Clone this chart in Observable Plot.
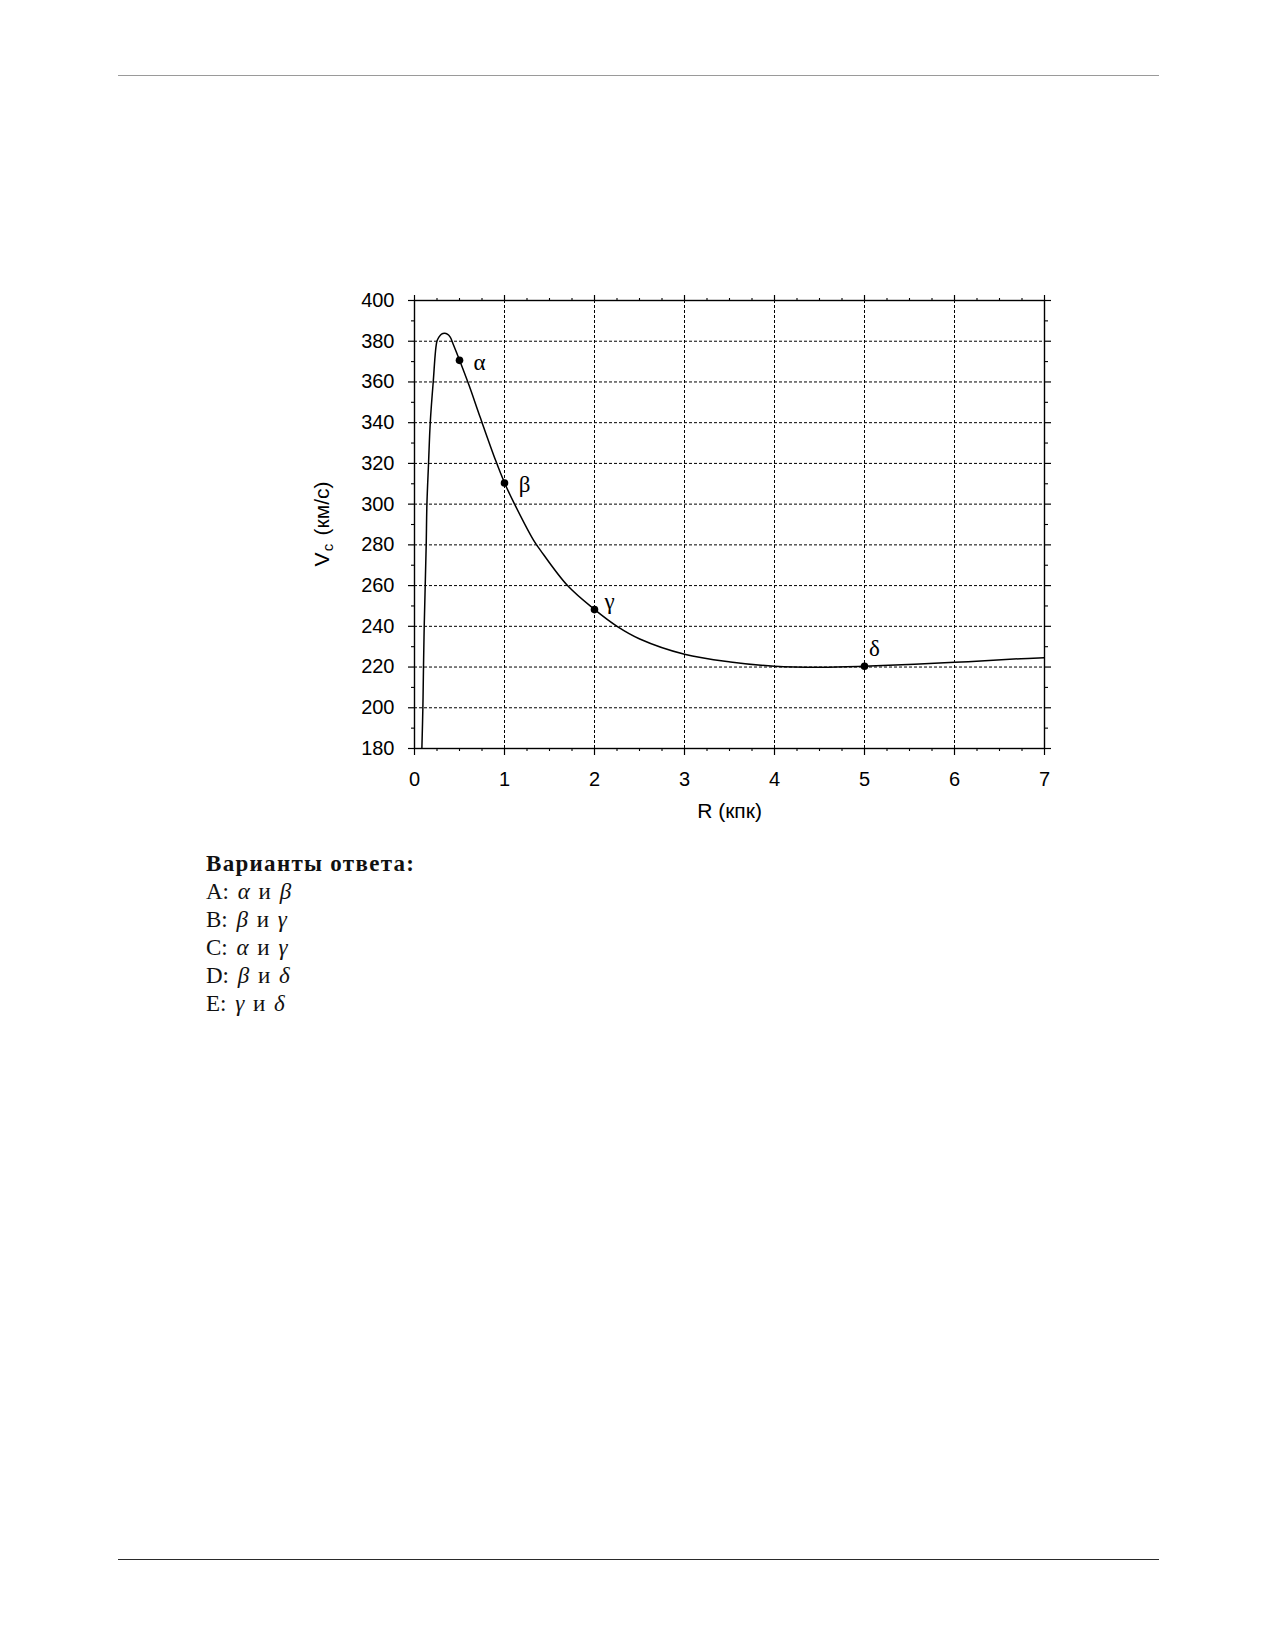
<!DOCTYPE html>
<html>
<head>
<meta charset="utf-8">
<script src="https://cdn.jsdelivr.net/npm/d3@7"></script>
<script src="https://cdn.jsdelivr.net/npm/@observablehq/plot@0.6"></script>
<style>
  html, body { margin: 0; padding: 0; background: #fff; }
  #page { position: relative; width: 1275px; height: 1650px; overflow: hidden; }
  .rule { position: absolute; left: 118px; width: 1041px; height: 0; }
  #chart { position: absolute; left: 0; top: 0; }
  #answers { position: absolute; left: 206px; top: 850px; font-family: "Liberation Serif", "DejaVu Serif", serif; font-size: 23px; line-height: 28px; color: #111; }
  #answers b { letter-spacing: 1.3px; }
  #answers .opt { word-spacing: 3px; }
  #answers i { font-style: italic; }
</style>
</head>
<body>
<div id="page">
  <div class="rule" style="top:75px;border-top:1.5px solid #9a9a9a;"></div>
  <div id="chart"></div>
  <div id="answers"></div>
  <div class="rule" style="top:1559px;border-top:1.5px solid #2a2a2a;"></div>
</div>
<script>
// Rotation curve V_c(R)
const R = [0.082, 0.093, 0.100, 0.108, 0.119, 0.130, 0.138, 0.156, 0.175, 0.208, 0.249, 0.271, 0.30, 0.334, 0.365, 0.397, 0.43, 0.505, 0.605, 0.731, 0.901, 1.001, 1.112, 1.324, 1.40, 1.70, 2.002, 2.251, 2.503, 3.0, 3.51, 4.0, 4.51, 4.99, 6.0, 6.74, 7.0];
const V = [180, 200, 220, 240, 260, 280, 300, 320, 340, 360, 380, 382, 383.5, 383.9, 383.5, 382, 378.5, 370.2, 358.5, 342.5, 321.5, 310.4, 300, 282.2, 277.3, 260, 248.2, 240, 233.8, 226.3, 222.5, 220.4, 219.9, 220.4, 222.3, 224.1, 224.6];

// Marked points
const markerNames = ["α", "β", "γ", "δ"];
const markerR = [0.5, 1, 2, 5];
const markerV = [370.6, 310.4, 248.2, 220.4];

// Ticks
const xMajor = [0, 1, 2, 3, 4, 5, 6, 7];
const xMinor = d3.range(0, 7.001, 0.25).filter(d => Math.abs(d - Math.round(d)) > 1e-6);
const yMajor = [180, 200, 220, 240, 260, 280, 300, 320, 340, 360, 380, 400];
const yMinor = [190, 210, 230, 250, 270, 290, 310, 330, 350, 370, 390];

// Axis titles
const xTitle = "R (кпк)";
const yTitleMain = "V";
const yTitleSub = "c";
const yTitleUnit = "(км/с)";

// Answer options
const answerHeader = "Варианты ответа:";
const optionLetters = ["A", "B", "C", "D", "E"];
const optionFirst = ["α", "β", "α", "β", "γ"];
const optionSecond = ["β", "γ", "γ", "δ", "δ"];

const curve = R.map((r, i) => ({R: r, V: V[i]}));
const pts = markerNames.map((n, i) => ({name: n, R: markerR[i], V: markerV[i]}));

const grid = {stroke: "#000", strokeWidth: 1, strokeDasharray: "3,2", strokeOpacity: 1};
const noText = () => "";
const greek = {x: "R", y: "V", text: "name", fontSize: 23, fontFamily: "Liberation Serif, DejaVu Serif, serif", fill: "#000", textAnchor: "middle", lineAnchor: "middle"};
const title = {text: d => d, fill: "#000", textAnchor: "middle", lineAnchor: "middle"};

const plot = Plot.plot({
  width: 1275,
  height: 850,
  marginTop: 300,
  marginLeft: 414,
  marginRight: 231,
  marginBottom: 102,
  x: {domain: [0, 7]},
  y: {domain: [180, 400]},
  style: {fontFamily: "Liberation Sans, Arial, sans-serif", fontSize: "20px", color: "#000", background: "transparent", overflow: "visible"},
  marks: [
    Plot.ruleX(xMajor.filter(d => d > 0 && d < 7), grid),
    Plot.ruleY(yMajor.filter(d => d > 180 && d < 400), grid),
    Plot.axisX({anchor: "bottom", ticks: xMajor, tickSize: 7, tickPadding: 16, label: null, tickFormat: d => d, strokeWidth: 1.2}),
    Plot.axisX({anchor: "bottom", ticks: xMinor, tickSize: 3, tickFormat: noText, label: null, strokeWidth: 1.1}),
    Plot.axisX({anchor: "top", ticks: xMajor, tickSize: 6, tickFormat: noText, label: null, strokeWidth: 1.2}),
    Plot.axisX({anchor: "top", ticks: xMinor, tickSize: 3, tickFormat: noText, label: null, strokeWidth: 1.1}),
    Plot.axisY({anchor: "left", ticks: yMajor, tickSize: 6, tickPadding: 14, label: null, tickFormat: d => d, strokeWidth: 1.2}),
    Plot.axisY({anchor: "left", ticks: yMinor, tickSize: 3, tickFormat: noText, label: null, strokeWidth: 1.1}),
    Plot.axisY({anchor: "right", ticks: yMajor, tickSize: 6, tickFormat: noText, label: null, strokeWidth: 1.2}),
    Plot.axisY({anchor: "right", ticks: yMinor, tickSize: 3, tickFormat: noText, label: null, strokeWidth: 1.1}),
    Plot.frame({stroke: "#000", strokeWidth: 1.4}),
    Plot.line(curve, {x: "R", y: "V", curve: "catmull-rom", stroke: "#000", strokeWidth: 1.5, clip: true}),
    Plot.dot(pts, {x: "R", y: "V", r: 3.8, fill: "#000", stroke: "none"}),
    Plot.text(pts.filter(d => d.name === "α"), {...greek, dx: 20, dy: 2}),
    Plot.text(pts.filter(d => d.name === "β"), {...greek, dx: 20, dy: 2}),
    Plot.text(pts.filter(d => d.name === "γ"), {...greek, dx: 15, dy: -8}),
    Plot.text(pts.filter(d => d.name === "δ"), {...greek, dx: 10, dy: -18}),
    Plot.text([xTitle], {...title, frameAnchor: "bottom", dy: 63, fontSize: 21}),
    Plot.text([yTitleUnit], {...title, frameAnchor: "left", dx: -92, dy: -16, rotate: -90, fontSize: 21}),
    Plot.text([yTitleMain], {...title, frameAnchor: "left", dx: -92, dy: 35, rotate: -90, fontSize: 21}),
    Plot.text([yTitleSub], {...title, frameAnchor: "left", dx: -86, dy: 23, rotate: -90, fontSize: 15})
  ]
});
document.getElementById("chart").appendChild(plot);

// Answer options text
const answers = d3.select("#answers");
answers.append("div").append("b").text(answerHeader);
optionLetters.forEach((L, i) => {
  const row = answers.append("div").attr("class", "opt");
  row.append("span").text(L + ": ");
  row.append("i").text(optionFirst[i]);
  row.append("span").text(" и ");
  row.append("i").text(optionSecond[i]);
});
</script>
</body>
</html>
